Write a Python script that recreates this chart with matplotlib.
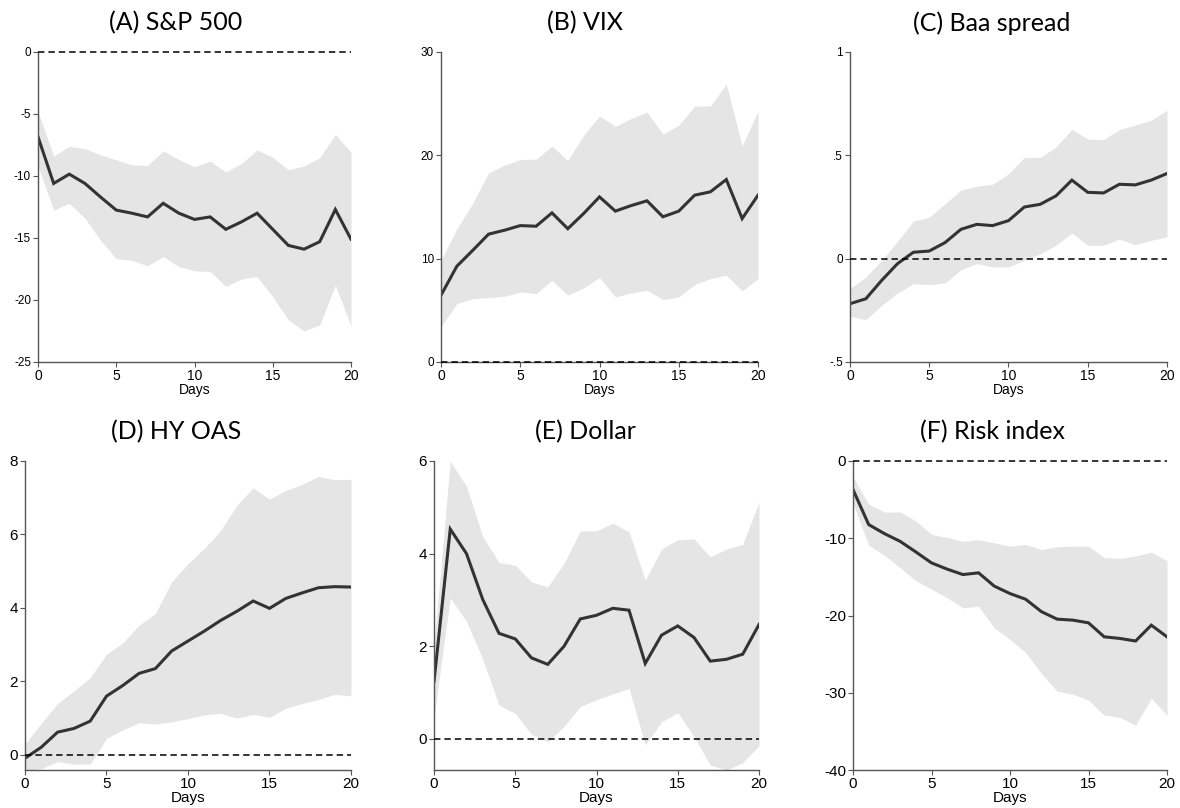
import matplotlib
matplotlib.use("Agg")
import matplotlib.pyplot as plt
from matplotlib.ticker import FuncFormatter

# horizon in days
days = list(range(21))

# (A) S&P 500
sp_irf = [-6.84, -10.6, -9.85, -10.6, -11.7, -12.75, -13.0, -13.3, -12.2, -13.0, -13.5,
          -13.3, -14.3, -13.7, -13.0, -14.3, -15.6, -15.9, -15.3, -12.7, -15.1]
sp_lo = [-9.2, -12.75, -12.2, -13.4, -15.2, -16.66, -16.8, -17.25, -16.5, -17.3, -17.65,
         -17.7, -18.9, -18.3, -18.1, -19.75, -21.6, -22.5, -22.0, -18.8, -22.1]
sp_hi = [-4.8, -8.4, -7.6, -7.8, -8.3, -8.7, -9.1, -9.15, -7.97, -8.67, -9.26,
         -8.8, -9.66, -9.0, -7.9, -8.5, -9.5, -9.2, -8.53, -6.65, -8.1]

# (B) VIX
vix_irf = [6.46, 9.27, 10.8, 12.37, 12.75, 13.2, 13.14, 14.43, 12.9, 14.37, 15.98,
           14.6, 15.14, 15.6, 14.05, 14.6, 16.14, 16.47, 17.66, 13.88, 16.14]
vix_lo = [3.45, 5.65, 6.13, 6.23, 6.36, 6.78, 6.62, 7.9, 6.46, 7.17, 8.17,
          6.3, 6.68, 6.94, 6.04, 6.3, 7.5, 8.07, 8.4, 6.88, 8.07]
vix_hi = [9.85, 12.9, 15.34, 18.3, 19.05, 19.6, 19.63, 20.9, 19.5, 21.95, 23.8,
          22.8, 23.57, 24.18, 22.05, 22.9, 24.77, 24.77, 26.9, 20.9, 24.3]

# (C) Baa spread
baa_irf = [-0.218, -0.194, -0.105, -0.024, 0.031, 0.037, 0.078, 0.142, 0.166, 0.16, 0.184,
           0.25, 0.263, 0.304, 0.38, 0.321, 0.318, 0.36, 0.357, 0.38, 0.412]
baa_lo = [-0.279, -0.295, -0.226, -0.166, -0.121, -0.126, -0.118, -0.053, -0.024, -0.04, -0.04,
          -0.008, 0.024, 0.065, 0.124, 0.065, 0.065, 0.094, 0.068, 0.089, 0.105]
baa_hi = [-0.145, -0.089, -0.008, 0.084, 0.182, 0.2, 0.266, 0.331, 0.35, 0.36, 0.41,
          0.49, 0.49, 0.54, 0.626, 0.578, 0.576, 0.625, 0.646, 0.67, 0.718]

# (D) HY OAS
hy_irf = [-0.09, 0.21, 0.62, 0.72, 0.92, 1.6, 1.89, 2.22, 2.35, 2.83, 3.1,
          3.37, 3.66, 3.91, 4.19, 3.99, 4.26, 4.41, 4.55, 4.58, 4.57]
hy_lo = [-0.41, -0.37, -0.18, -0.25, -0.25, 0.45, 0.68, 0.88, 0.84, 0.9, 0.99,
         1.09, 1.13, 1.0, 1.1, 1.02, 1.27, 1.4, 1.51, 1.65, 1.61]
hy_hi = [0.3, 0.86, 1.4, 1.74, 2.11, 2.74, 3.05, 3.53, 3.85, 4.71, 5.21,
         5.62, 6.11, 6.79, 7.27, 6.96, 7.2, 7.36, 7.58, 7.49, 7.5]

# (E) Dollar
usd_irf = [1.24, 4.53, 4.0, 3.01, 2.28, 2.16, 1.75, 1.61, 2.0, 2.59, 2.67,
           2.82, 2.78, 1.63, 2.24, 2.44, 2.19, 1.68, 1.72, 1.83, 2.47]
usd_lo = [0.47, 3.05, 2.54, 1.72, 0.73, 0.55, 0.1, -0.06, 0.27, 0.7, 0.85,
          0.97, 1.09, -0.13, 0.37, 0.57, 0.05, -0.56, -0.67, -0.51, -0.15]
usd_hi = [2.0, 6.0, 5.45, 4.37, 3.81, 3.75, 3.39, 3.28, 3.79, 4.49, 4.49,
          4.66, 4.47, 3.43, 4.1, 4.3, 4.32, 3.93, 4.1, 4.2, 5.11]

# (F) Risk index
risk_irf = [-3.7, -8.23, -9.4, -10.4, -11.77, -13.19, -14.0, -14.7, -14.48, -16.2, -17.16,
            -17.9, -19.5, -20.47, -20.6, -20.95, -22.76, -22.97, -23.3, -21.25, -22.76]
risk_lo = [-5.5, -10.9, -12.2, -13.8, -15.5, -16.6, -17.7, -19.0, -18.8, -21.6, -23.1,
           -24.8, -27.5, -29.8, -30.2, -30.95, -32.9, -33.2, -34.2, -30.7, -32.9]
risk_hi = [-2.07, -5.6, -6.6, -6.6, -7.76, -9.5, -9.9, -10.4, -10.17, -10.6, -11.03,
           -10.8, -11.47, -11.1, -11.03, -11.03, -12.5, -12.6, -12.3, -11.8, -12.9]

titles = ["(A) S&P 500", "(B) VIX", "(C) Baa spread",
          "(D) HY OAS", "(E) Dollar", "(F) Risk index"]
irfs = [sp_irf, vix_irf, baa_irf, hy_irf, usd_irf, risk_irf]
lows = [sp_lo, vix_lo, baa_lo, hy_lo, usd_lo, risk_lo]
highs = [sp_hi, vix_hi, baa_hi, hy_hi, usd_hi, risk_hi]
yticks = [[-25, -20, -15, -10, -5, 0], [0, 10, 20, 30], [-0.5, 0, 0.5, 1],
          [0, 2, 4, 6, 8], [0, 2, 4, 6], [-40, -30, -20, -10, 0]]
ylims = [(-25, 0), (0, 30), (-0.5, 1), (-0.41, 8), (-0.67, 6), (-40, 0)]

# axes boxes in pixels: left, right, top, bottom (figure 1180x808)
boxes = [(38, 351, 52, 362), (441, 758, 52, 362), (850, 1167, 52, 362),
         (25, 351, 461, 770), (434, 759, 461, 770), (853, 1167, 461, 770)]
title_pos = [(176, 23), (585, 23), (992, 23), (176, 432), (585, 432), (992, 432)]

W, H = 1180, 808
band_col = "#e5e5e5"
line_col = "#333333"
spine_col = "#555555"


def stata_fmt(v, pos):
    if abs(v - round(v)) < 1e-9:
        return "%d" % round(v)
    s = ("%g" % v).replace("0.", ".")
    return s


fig = plt.figure(figsize=(W / 100, H / 100), dpi=100)

for i in range(6):
    l, r, t, b = boxes[i]
    ax = fig.add_axes([l / W, 1 - b / H, (r - l) / W, (b - t) / H])
    top_row = i < 3
    ax.fill_between(days, lows[i], highs[i], color=band_col, linewidth=0)
    ax.plot(days, irfs[i], color=line_col, linewidth=2.2, solid_joinstyle="miter")
    ax.plot([0, 20], [0, 0], color="black", linewidth=1.1,
            linestyle=(0, (4.2, 2.6)), clip_on=False, zorder=5)
    ax.set_xlim(0, 20)
    ax.set_ylim(*ylims[i])
    ax.set_xticks([0, 5, 10, 15, 20])
    ax.set_yticks(yticks[i])
    ax.yaxis.set_major_formatter(FuncFormatter(stata_fmt))
    for s in ["top", "right"]:
        ax.spines[s].set_visible(False)
    for s in ["left", "bottom"]:
        ax.spines[s].set_color(spine_col)
        ax.spines[s].set_linewidth(1.0)
    fs = 10 if top_row else 11
    ax.tick_params(axis="both", direction="out", length=3.5, width=0.8,
                   color=spine_col, pad=1.5)
    ax.tick_params(axis="x", labelsize=fs)
    ax.tick_params(axis="y", labelsize=8.5 if top_row else fs)
    for lab in ax.get_xticklabels() + ax.get_yticklabels():
        lab.set_family("Liberation Sans")
    ax.set_xlabel("Days", fontsize=fs, family="Liberation Sans", labelpad=0)
    ax.set_facecolor("white")

    tx, ty = title_pos[i]
    fig.text(tx / W, 1 - ty / H, titles[i], ha="center", va="center",
             fontsize=18, family="Lato")

fig.savefig("out.png", dpi=100, facecolor="white")
